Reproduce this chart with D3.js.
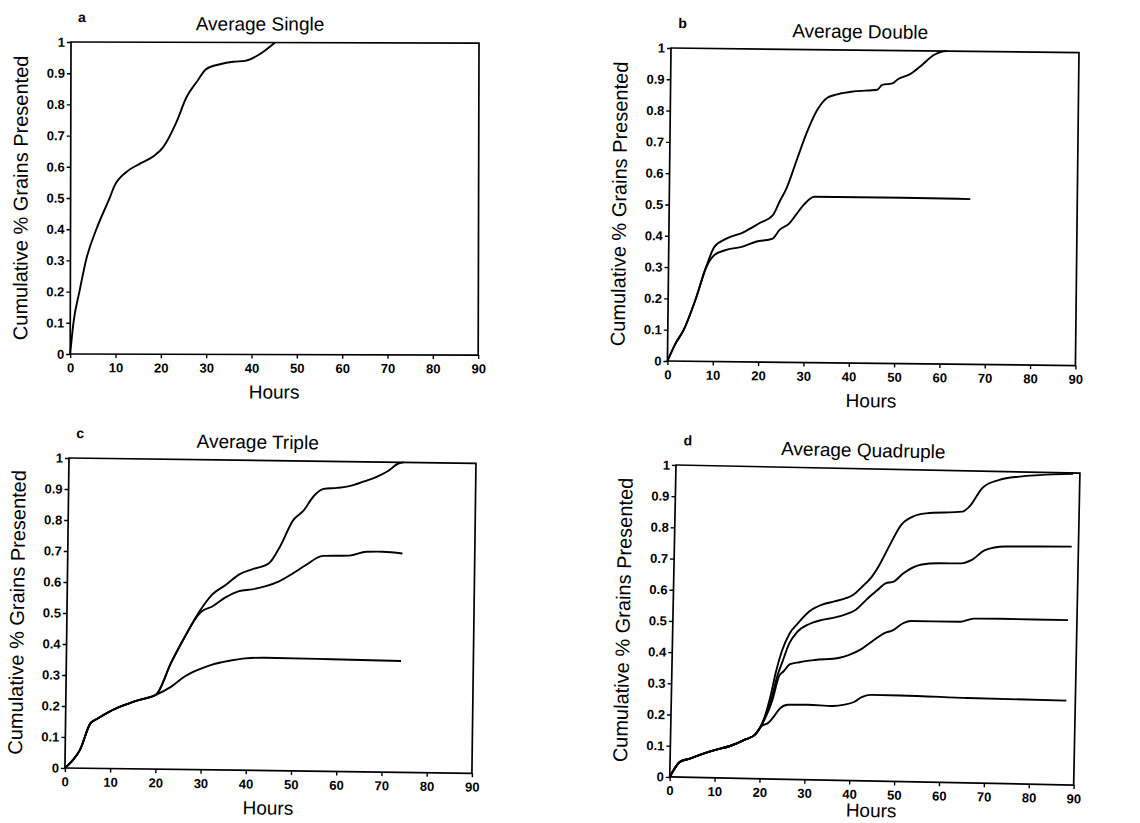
<!DOCTYPE html>
<html>
<head>
<meta charset="utf-8">
<script src="https://cdn.jsdelivr.net/npm/d3@7"></script>
<style>
  body { margin: 0; background: #fff; }
  text { font-family: "Liberation Sans", Arial, Helvetica, sans-serif; fill: #000; }
</style>
</head>
<body>
<svg id="chart" width="1140" height="823"></svg>
<script>
// tick labels
const xTicks = [0, 10, 20, 30, 40, 50, 60, 70, 80, 90];
const yTicks = [0, 0.1, 0.2, 0.3, 0.4, 0.5, 0.6, 0.7, 0.8, 0.9, 1];

// a: single
const singleHours = [0, 0.7, 2, 3.6, 5.7, 8.6, 9.7, 12.3, 15.2, 18.5, 20.4, 23.3, 25.5, 27.7, 29.9, 32.9, 35.8, 38.4, 41.7, 45];
const singleCum   = [0, 0.1, 0.2, 0.31, 0.4, 0.5, 0.54, 0.584, 0.61, 0.637, 0.664, 0.744, 0.824, 0.872, 0.915, 0.93, 0.938, 0.941, 0.963, 1.0];

// b: double
const doubleHoursA = [0, 1.7, 3.5, 6.1, 8.3, 10.1, 12.7, 16.3, 20, 22.9, 24.4, 25.8, 28, 30.2, 32.4, 34.6, 36.8, 40.5, 45.6, 46.7, 48.9, 50.3, 52.9, 55.1, 58, 59.5, 61];
const doubleCumA   = [0, 0.055, 0.1, 0.2, 0.302, 0.367, 0.393, 0.413, 0.444, 0.47, 0.515, 0.555, 0.646, 0.736, 0.807, 0.847, 0.858, 0.868, 0.874, 0.89, 0.895, 0.91, 0.926, 0.951, 0.987, 0.997, 1.0];
const doubleHoursB = [0, 1.7, 3.5, 6.1, 8.3, 10.1, 12.7, 16.3, 19.2, 22.9, 24.4, 26.6, 28, 29.8, 32, 36.8, 51.4, 66.4];
const doubleCumB   = [0, 0.055, 0.1, 0.2, 0.3, 0.34, 0.357, 0.368, 0.384, 0.395, 0.423, 0.445, 0.472, 0.506, 0.53, 0.53, 0.53, 0.528];

// c: triple
const tripleHoursA = [0, 1.8, 3.3, 5.5, 7, 9.6, 12.9, 15.9, 19.9, 23.2, 26.2, 29.1, 32.1, 35, 38, 40.9, 44.6, 46.8, 49.8, 52, 54.2, 56.4, 59.4, 62.3, 65.3, 68.2, 70.4, 73, 74];
const tripleCumA   = [0, 0.027, 0.06, 0.145, 0.16, 0.183, 0.205, 0.221, 0.24, 0.345, 0.43, 0.506, 0.566, 0.597, 0.632, 0.649, 0.67, 0.72, 0.81, 0.84, 0.887, 0.911, 0.915, 0.922, 0.937, 0.953, 0.97, 0.997, 1.0];
const tripleHoursB = [0, 1.8, 3.3, 5.5, 7, 9.6, 12.9, 15.9, 19.9, 23.2, 26.2, 29.1, 29.9, 32.1, 35, 38, 40.9, 43.9, 46.8, 49.8, 52.7, 56.4, 62.3, 66, 69.7, 74];
const tripleCumB   = [0, 0.027, 0.06, 0.145, 0.16, 0.183, 0.205, 0.221, 0.24, 0.345, 0.43, 0.5, 0.512, 0.527, 0.557, 0.578, 0.584, 0.595, 0.611, 0.637, 0.665, 0.695, 0.697, 0.71, 0.711, 0.706];
const tripleHoursC = [0, 1.8, 3.3, 5.5, 7, 9.6, 12.9, 15.9, 19.9, 23.2, 26.2, 29.1, 32.1, 36.5, 39.5, 43.9, 58.6, 74];
const tripleCumC   = [0, 0.027, 0.06, 0.145, 0.16, 0.183, 0.205, 0.221, 0.24, 0.266, 0.3, 0.322, 0.339, 0.354, 0.361, 0.364, 0.362, 0.359];

// d: quadruple
const quadHoursA = [0, 2.2, 4.4, 7.4, 9.9, 13.3, 16.7, 18.8, 20.8, 22, 23.2, 24.4, 26, 27.7, 30.4, 33.2, 35.9, 38.6, 40, 42, 44.1, 45.5, 47.8, 50.4, 53, 55.9, 64, 65.5, 68.4, 72.1, 76.5, 81, 88.5];
const quadCumA   = [0, 0.049, 0.06, 0.077, 0.089, 0.103, 0.125, 0.141, 0.195, 0.26, 0.345, 0.41, 0.466, 0.498, 0.54, 0.562, 0.573, 0.585, 0.595, 0.622, 0.654, 0.686, 0.752, 0.822, 0.85, 0.861, 0.869, 0.885, 0.947, 0.973, 0.985, 0.991, 0.997];
const quadHoursB = [0, 2.2, 4.4, 7.4, 9.9, 13.3, 16.7, 18.8, 20.8, 22.2, 23.6, 24.6, 26, 27.7, 30.4, 33.2, 35.9, 38.6, 40.7, 43.4, 45.5, 47.2, 49, 51, 55.2, 58.9, 64, 66.2, 69.2, 73.6, 81, 88.5];
const quadCumB   = [0, 0.049, 0.06, 0.077, 0.089, 0.103, 0.125, 0.141, 0.193, 0.252, 0.335, 0.377, 0.435, 0.472, 0.499, 0.513, 0.521, 0.533, 0.548, 0.586, 0.613, 0.634, 0.64, 0.666, 0.697, 0.702, 0.703, 0.714, 0.747, 0.76, 0.762, 0.764];
const quadHoursC = [0, 2.2, 4.4, 7.4, 9.9, 13.3, 16.7, 18.8, 20.8, 22.5, 23.9, 24.9, 26.3, 28.4, 31.8, 37.3, 39.3, 42.1, 44.8, 47.2, 49, 51, 53, 64, 67, 73, 88];
const quadCumC   = [0, 0.049, 0.06, 0.077, 0.089, 0.103, 0.125, 0.141, 0.188, 0.252, 0.33, 0.346, 0.369, 0.376, 0.384, 0.393, 0.402, 0.422, 0.451, 0.475, 0.484, 0.505, 0.515, 0.516, 0.527, 0.528, 0.528];
const quadHoursD = [0, 2.2, 4.4, 7.4, 9.9, 13.3, 16.7, 18.8, 20.1, 21.8, 22.9, 24.2, 26, 30.4, 35.9, 38.6, 40.7, 42.4, 44.5, 51, 66, 88];
const quadCumD   = [0, 0.049, 0.06, 0.077, 0.089, 0.103, 0.125, 0.141, 0.167, 0.181, 0.2, 0.226, 0.239, 0.24, 0.238, 0.243, 0.252, 0.268, 0.276, 0.276, 0.272, 0.27];

// panel layout (the scan is slightly rotated, hence tilt)
const panels = [
  {letter: 'a', title: 'Average Single', x: 71, y: 42, w: 408, h: 312, tilt: 0.15, hoursDy: 44,
   series: [[singleHours, singleCum]]},
  {letter: 'b', title: 'Average Double', x: 671, y: 48, w: 408, h: 313, tilt: 0.65, hoursDy: 44,
   series: [[doubleHoursA, doubleCumA], [doubleHoursB, doubleCumB]]},
  {letter: 'c', title: 'Average Triple', x: 69, y: 458, w: 407, h: 310, tilt: 0.75, hoursDy: 44,
   series: [[tripleHoursA, tripleCumA], [tripleHoursB, tripleCumB], [tripleHoursC, tripleCumC]]},
  {letter: 'd', title: 'Average Quadruple', x: 676, y: 465, w: 404, h: 312, tilt: 1.15, hoursDy: 36,
   series: [[quadHoursA, quadCumA], [quadHoursB, quadCumB], [quadHoursC, quadCumC], [quadHoursD, quadCumD]]}
];

const svg = d3.select('#chart');
svg.append('rect').attr('width', 1140).attr('height', 823).attr('fill', '#fff');

function drawPanel(p) {
  const g = svg.append('g').attr('transform', `translate(${p.x},${p.y}) rotate(${p.tilt})`);
  const x = d3.scaleLinear().domain([0, 90]).range([0, p.w]);
  const y = d3.scaleLinear().domain([0, 1]).range([p.h, 0]);

  const yAxis = d3.axisLeft(y).tickValues(yTicks).tickSize(4).tickPadding(2)
    .tickFormat(d => (d === 0 || d === 1) ? d3.format('d')(d) : d3.format('.1f')(d));
  const xAxis = d3.axisBottom(x).tickValues(xTicks).tickSize(4).tickPadding(5).tickFormat(d3.format('d'));

  const ya = g.append('g').call(yAxis);
  const xa = g.append('g').attr('transform', `translate(0,${p.h})`).call(xAxis);
  [ya, xa].forEach(a => {
    a.select('.domain').remove();
    a.selectAll('line').attr('stroke', '#000').attr('stroke-width', 1.4);
    a.selectAll('text').attr('font-size', 13).attr('font-weight', 'bold')
      .attr('font-family', '"Liberation Sans", Arial, sans-serif').attr('fill', '#000');
  });

  g.append('rect').attr('x', 0).attr('y', 0).attr('width', p.w).attr('height', p.h)
    .attr('fill', 'none').attr('stroke', '#000').attr('stroke-width', 1.7);

  const line = d3.line().x(d => x(d[0])).y(d => y(d[1])).curve(d3.curveMonotoneX);
  p.series.forEach(([hrs, cum]) => {
    g.append('path').datum(d3.zip(hrs, cum)).attr('d', line)
      .attr('fill', 'none').attr('stroke', '#000').attr('stroke-width', 1.9)
      .attr('stroke-linejoin', 'round');
  });

  g.append('text').attr('x', 7).attr('y', -20).attr('font-size', 14).attr('font-weight', 'bold').text(p.letter);
  g.append('text').attr('x', p.w / 2 - 15).attr('y', -12).attr('text-anchor', 'middle')
    .attr('font-size', 19).text(p.title);
  g.append('text').attr('x', p.w / 2).attr('y', p.h + p.hoursDy).attr('text-anchor', 'middle')
    .attr('font-size', 19).text('Hours');
  g.append('text').attr('transform', `translate(-43,${p.h / 2}) rotate(-90)`).attr('text-anchor', 'middle')
    .attr('font-size', 20).text('Cumulative % Grains Presented');
}

panels.forEach(drawPanel);
</script>
</body>
</html>
